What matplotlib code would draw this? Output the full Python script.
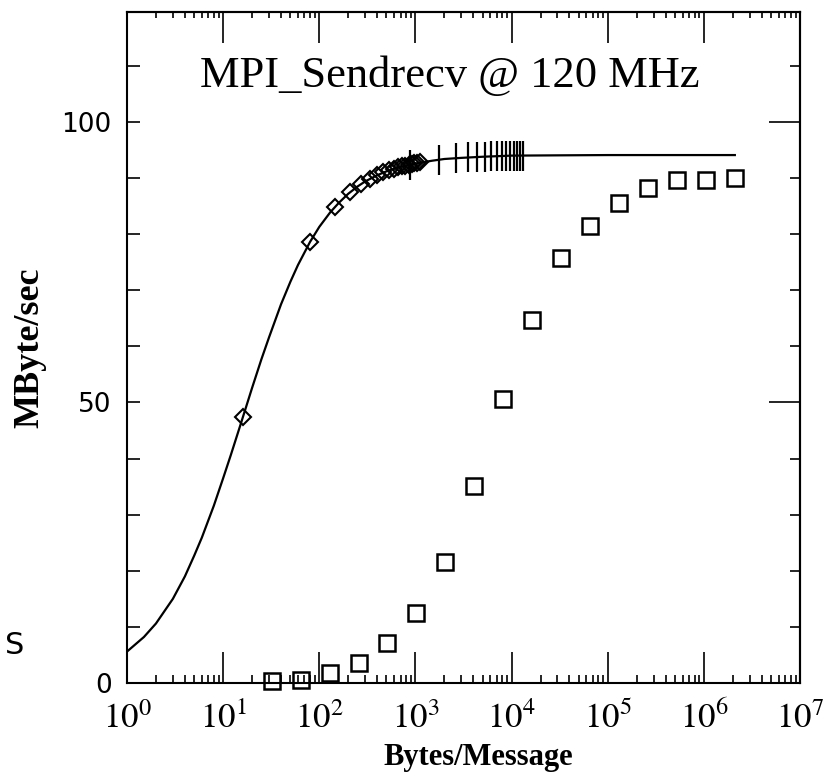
import matplotlib
matplotlib.use("Agg")
import matplotlib.pyplot as plt
from matplotlib.ticker import FixedLocator, FixedFormatter, LogLocator, NullFormatter, MultipleLocator

# ---- data ----
curve_bytes = [1, 1.5, 2, 3, 4, 5, 6, 8, 10, 12, 15, 20, 25, 30, 40, 50, 60, 80, 100, 130,
               160, 200, 250, 300, 400, 500, 700, 1000, 1500, 2000, 3000, 5000, 10000,
               30000, 100000, 1000000, 2100000]
curve_mbs = [5.6, 8.2, 10.6, 15.0, 19.0, 22.7, 25.9, 31.6, 36.5, 40.6, 45.8, 52.6, 57.7, 61.6,
             67.5, 71.5, 74.5, 78.6, 81.3, 83.9, 85.6, 87.2, 88.5, 89.4, 90.5, 91.2, 92.0,
             92.6, 93.1, 93.4, 93.6, 93.8, 94.0, 94.05, 94.1, 94.1, 94.1]

diamond_bytes = [16, 80, 144, 208, 272, 336, 400, 464, 528, 592, 656, 720, 784, 848, 912,
                 976, 1040, 1104]
diamond_mbs = [47.4, 78.6, 84.8, 87.5, 88.9, 89.9, 90.5, 91.0, 91.4, 91.7, 91.9, 92.1, 92.2,
               92.4, 92.5, 92.6, 92.7, 92.8]

plus_bytes = [880, 1760, 2640, 3520, 4400, 5280, 6160, 7040, 7920, 8800, 9680, 10560,
              11440, 12320, 13200]
plus_mbs = [92.4, 93.3, 93.5, 93.7, 93.8, 93.8, 93.9, 93.9, 93.9, 93.9, 94.0, 94.0, 94.0,
            94.0, 94.0]

square_bytes = [32, 64, 128, 256, 512, 1024, 2048, 4096, 8192, 16384, 32768, 65536,
                131072, 262144, 524288, 1048576, 2097152]
square_mbs = [0.3, 0.6, 1.7, 3.6, 7.2, 12.4, 21.6, 35.1, 50.6, 64.7, 75.8, 81.5, 85.6,
              88.2, 89.7, 89.7, 90.0]

xtick_vals = [1, 10, 100, 1000, 10000, 100000, 1000000, 10000000]
xtick_labels = [r"$10^{0}$", r"$10^{1}$", r"$10^{2}$", r"$10^{3}$", r"$10^{4}$",
                r"$10^{5}$", r"$10^{6}$", r"$10^{7}$"]
ytick_vals = [0, 50, 100]
ytick_labels = ["0", "50", "100"]

title_text = "MPI_Sendrecv @ 120 MHz"
xlabel_text = "Bytes/Message"
ylabel_text = "MByte/sec"

# ---- figure ----
plt.rcParams["mathtext.fontset"] = "stix"
fig = plt.figure(figsize=(8.34, 7.75), dpi=100)
ax = fig.add_axes([127 / 834, 1 - 683 / 775, 673 / 834, 671 / 775])

ax.plot(curve_bytes, curve_mbs, "-", color="black", lw=1.6, zorder=2)
ax.plot(diamond_bytes, diamond_mbs, "D", ms=8, mfc="none", mec="black", mew=1.5, zorder=3)
ax.plot(plus_bytes, plus_mbs, "|", ms=21, mec="black", mew=1.6, zorder=3)
ax.plot(square_bytes, square_mbs, "s", ms=11, mfc="none", mec="black", mew=1.8,
        zorder=3, clip_on=False)

ax.set_xscale("log")
ax.set_xlim(1, 1e7)
ax.set_ylim(0, 119.6)

for s in ax.spines.values():
    s.set_linewidth(1.5)

# bottom / left
ax.xaxis.set_major_locator(FixedLocator(xtick_vals))
ax.xaxis.set_major_formatter(FixedFormatter(xtick_labels))
ax.xaxis.set_minor_locator(LogLocator(base=10, subs=range(2, 10), numticks=20))
ax.xaxis.set_minor_formatter(NullFormatter())
ax.yaxis.set_major_locator(FixedLocator(ytick_vals))
ax.yaxis.set_major_formatter(FixedFormatter(ytick_labels))
ax.yaxis.set_minor_locator(MultipleLocator(10))

ax.tick_params(axis="x", which="major", direction="in", length=22, width=1.2,
               labelsize=25, pad=13, top=False)
ax.tick_params(axis="x", which="minor", direction="in", length=6, width=1.2, top=False)
ax.tick_params(axis="y", which="both", direction="in", length=9, width=1.2,
               labelsize=19, pad=11, right=False)
for lab in ax.get_yticklabels():
    lab.set_fontfamily("DejaVu Sans")

# top
top = ax.secondary_xaxis("top")
top.xaxis.set_major_locator(FixedLocator(xtick_vals))
top.xaxis.set_minor_locator(LogLocator(base=10, subs=range(2, 10), numticks=20))
top.xaxis.set_major_formatter(NullFormatter())
top.xaxis.set_minor_formatter(NullFormatter())
top.tick_params(which="major", direction="in", length=22, width=1.2)
top.tick_params(which="minor", direction="in", length=4, width=1.2)
top.spines["top"].set_linewidth(1.5)

# right
right = ax.secondary_yaxis("right")
right.yaxis.set_major_locator(FixedLocator(ytick_vals))
right.yaxis.set_minor_locator(MultipleLocator(10))
right.yaxis.set_major_formatter(NullFormatter())
right.tick_params(which="major", direction="in", length=22, width=1.2)
right.tick_params(which="minor", direction="in", length=7, width=1.2)
right.spines["right"].set_linewidth(1.5)

ax.text(0.48, 0.905, title_text, transform=ax.transAxes, ha="center", va="center",
        fontsize=32, family="Liberation Serif")
fig.text(478 / 834, 1 - 757 / 775, xlabel_text, ha="center", va="center",
         fontsize=22, family="Liberation Serif", fontweight="bold")
fig.text(30 / 834, 1 - 348 / 775, ylabel_text, rotation=90, ha="center", va="center",
         fontsize=26, family="Liberation Serif", fontweight="bold")

fig.text(15 / 834, 1 - 645 / 775, "S", ha="center", va="center", fontsize=22,
         family="DejaVu Sans")

fig.savefig("out.png", dpi=100)
